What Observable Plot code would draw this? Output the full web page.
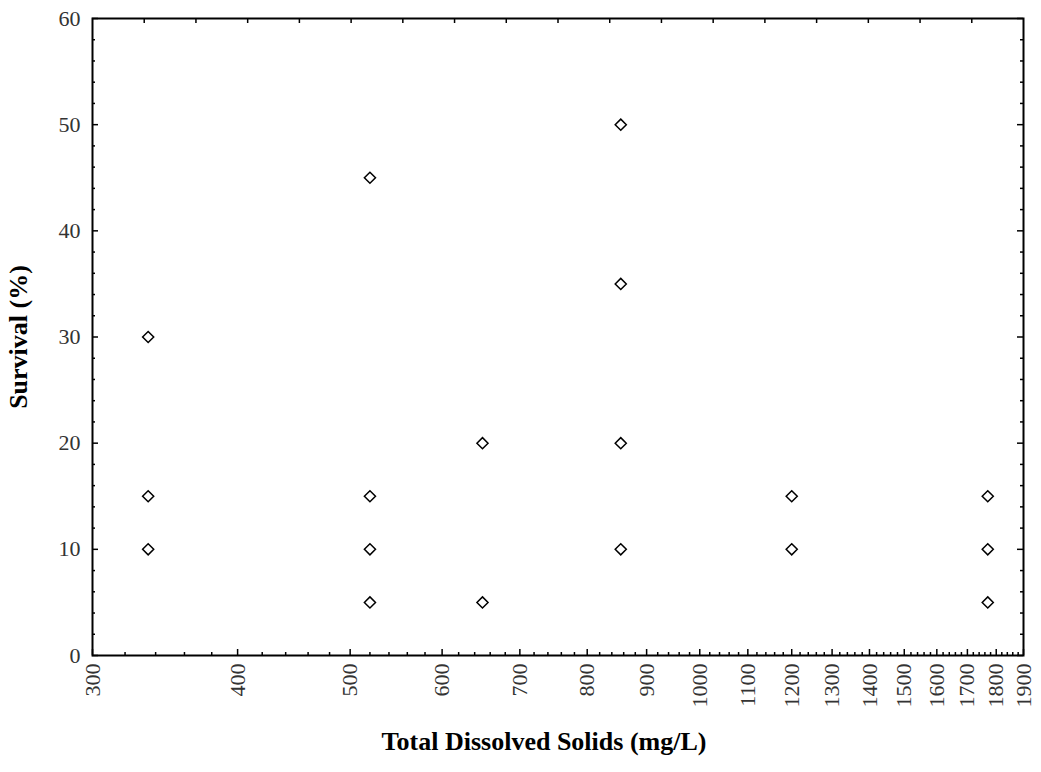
<!DOCTYPE html>
<html><head><meta charset="utf-8">
<script src="https://cdn.jsdelivr.net/npm/d3@7"></script>
<script src="https://cdn.jsdelivr.net/npm/@observablehq/plot@0.6"></script>
<style>body{margin:0;background:#fff}#chart svg{display:block}</style>
</head><body><div id="chart"></div>
<script>
// Data
const tds      = [335, 335, 335, 520, 520, 520, 520, 650, 650, 855, 855, 855, 855, 1200, 1200, 1770, 1770, 1770];
const survival = [30, 15, 10, 45, 15, 10, 5, 20, 5, 50, 35, 20, 10, 15, 10, 15, 10, 5];
const xTickValues = [300, 400, 500, 600, 700, 800, 900, 1000, 1100, 1200, 1300, 1400, 1500, 1600, 1700, 1800, 1900];
const yTickValues = [0, 10, 20, 30, 40, 50, 60];
const xLabel = "Total Dissolved Solids (mg/L)";
const yLabel = "Survival (%)";

const data = tds.map((t, i) => ({tds: t, survival: survival[i]}));

const W = 1041, H = 772;
const mL = 92, mR = 18, mT = 18, mB = 117;
const fw = W - mL - mR, fh = H - mT - mB;

const xMinor = d3.range(320, 1900, 20).filter(v => v % 100 !== 0);
const yMinor = d3.range(0, 61, 2).filter(v => v % 10 !== 0);
const topTicks = d3.range(1, 18).map(k => 300 * Math.pow(1900 / 300, k / 18));

const serif = "'Liberation Serif', 'Times New Roman', serif";

const chart = Plot.plot({
  width: W, height: H,
  marginLeft: mL, marginRight: mR, marginTop: mT, marginBottom: mB,
  style: {background: "white", fontFamily: serif},
  x: {type: "log", domain: [300, 1900], range: [mL, W - mR]},
  y: {domain: [0, 60]},
  marks: [
    Plot.axisX({ticks: xTickValues, tickFormat: d => String(d), tickSize: 0, tickPadding: 8, tickRotate: -90, fontSize: 22, fill: "#333", label: null}),
    Plot.axisY({ticks: yTickValues, tickSize: 0, tickPadding: 12, fontSize: 22, fill: "#333", label: null}),
    Plot.axisY({ticks: [], tickSize: 0, label: yLabel, labelAnchor: "center", labelArrow: "none", labelOffset: 84, fontSize: 26, fontWeight: "bold", fill: "black"}),
    // inward ticks
    Plot.tickY(yTickValues, {y: d => d, insetRight: fw - 6, stroke: "black", strokeWidth: 1.5}),
    Plot.tickY(yMinor, {y: d => d, insetRight: fw - 3, stroke: "black", strokeWidth: 1.5}),
    Plot.tickY(yTickValues, {y: d => d, insetLeft: fw - 6, stroke: "black", strokeWidth: 1.5}),
    Plot.tickY(yMinor, {y: d => d, insetLeft: fw - 3, stroke: "black", strokeWidth: 1.5}),
    Plot.tickX(xTickValues, {x: d => d, insetTop: fh - 6, stroke: "black", strokeWidth: 1.5}),
    Plot.tickX(xMinor, {x: d => d, insetTop: fh - 3, stroke: "black", strokeWidth: 1.5}),
    Plot.tickX(topTicks, {x: d => d, insetBottom: fh - 5, stroke: "black", strokeWidth: 1.5}),
    Plot.frame({stroke: "black", strokeWidth: 2}),
    Plot.dot(data, {x: "tds", y: "survival", symbol: "diamond2", r: 5, stroke: "black", fill: "white", strokeWidth: 1.5}),
    Plot.text([xLabel], {frameAnchor: "bottom", dy: 94, dx: -14, fontSize: 26, fontWeight: "bold", fill: "black", fontFamily: serif})
  ]
});
document.getElementById("chart").appendChild(chart);
</script>
</body></html>
